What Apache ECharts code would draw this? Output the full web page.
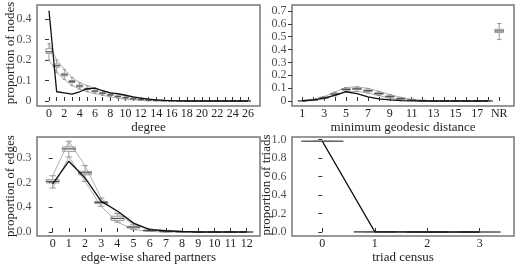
<!DOCTYPE html>
<html>
<head>
<meta charset="utf-8">
<script src="https://cdn.jsdelivr.net/npm/echarts@6/dist/echarts.min.js"></script>
<style>
  html, body { margin: 0; padding: 0; background: #fff; }
  #main { width: 519px; height: 266px; }
</style>
</head>
<body>
<div id="main"></div>
<script>
// degree panel
var degreePos = [0,1,2,3,4,5,6,7,8,9,10,11,12,13,14,15,16,17,18,19,20,21,22,23,24,25,26];
var degreeLabels = [0,2,4,6,8,10,12,14,16,18,20,22,24,26];
var degreeObs = [0.44,0.045,0.04,0.033,0.045,0.06,0.063,0.05,0.04,0.036,0.028,0.02,0.014,0.009,0.005,0.003,0.002,0.001,0,0,0,0,0,0,0,0,0];
// [low, q1, median, q3, high]
var degreeBoxes = [
  [0.2,0.232,0.24,0.255,0.28],[0.14,0.165,0.172,0.18,0.2],[0.105,0.122,0.128,0.135,0.155],
  [0.075,0.09,0.095,0.1,0.115],[0.058,0.068,0.073,0.078,0.09],[0.045,0.055,0.058,0.062,0.075],
  [0.036,0.044,0.048,0.052,0.063],[0.028,0.035,0.038,0.042,0.05],[0.02,0.027,0.03,0.033,0.04],
  [0.014,0.02,0.022,0.025,0.032],[0.009,0.014,0.016,0.018,0.025],[0.006,0.009,0.011,0.013,0.018],
  [0.003,0.006,0.007,0.009,0.013],[0.001,0.003,0.004,0.006,0.009],[0,0.002,0.003,0.004,0.006],
  [0,0.001,0.002,0.002,0.004],[0,0,0.001,0.001,0.003],[0,0,0,0,0],[0,0,0,0,0],[0,0,0,0,0],
  [0,0,0,0,0],[0,0,0,0,0],[0,0,0,0,0],[0,0,0,0,0],[0,0,0,0,0],[0,0,0,0,0],[0,0,0,0,0]
];
var degreeYTicks = [0,0.1,0.2,0.3,0.4];
var degreeYLabels = ['0','0.1','0.2','0.3','0.4'];

// geodesic distance panel (NR drawn at position 19)
var geoPos = [1,2,3,4,5,6,7,8,9,10,11,12,13,14,15,16,17,18];
var geoTicks = [1,2,3,4,5,6,7,8,9,10,11,12,13,14,15,16,17,18,19];
var geoLabels = [1,3,5,7,9,11,13,15,17,19];
var geoObs = [0.002,0.008,0.022,0.045,0.072,0.058,0.032,0.016,0.008,0.003,0.001,0,0,0,0,0,0,0];
var geoBoxes = [
  [0,0,0.001,0.002,0.004],[0.003,0.005,0.007,0.009,0.013],[0.018,0.021,0.025,0.029,0.035],
  [0.04,0.05,0.055,0.06,0.07],[0.07,0.084,0.09,0.096,0.105],[0.075,0.089,0.095,0.101,0.11],
  [0.062,0.074,0.08,0.086,0.098],[0.042,0.052,0.058,0.064,0.075],[0.022,0.03,0.035,0.04,0.05],
  [0.01,0.014,0.018,0.022,0.028],[0.004,0.006,0.008,0.01,0.014],[0.001,0.002,0.003,0.004,0.006],
  [0,0,0.001,0.002,0.003],[0,0,0,0,0],[0,0,0,0,0],[0,0,0,0,0],[0,0,0,0,0],[0,0,0,0,0]
];
var geoNR = [0.478,0.532,0.545,0.558,0.603];
var geoYTicks = [0,0.1,0.2,0.3,0.4,0.5,0.6,0.7];
var geoYLabels = ['0','0.1','0.2','0.3','0.4','0.5','0.6','0.7'];

// edge-wise shared partners panel
var espPos = [0,1,2,3,4,5,6,7,8,9,10,11,12];
var espObs = [0.195,0.287,0.219,0.124,0.085,0.036,0.01,0.005,0.002,0,0,0,0];
var espBoxes = [
  [0.178,0.199,0.205,0.212,0.228],[0.304,0.327,0.337,0.345,0.368],[0.205,0.232,0.24,0.246,0.269],
  [0.104,0.115,0.12,0.124,0.138],[0.04,0.047,0.055,0.064,0.075],[0.01,0.016,0.02,0.023,0.03],
  [0.002,0.004,0.006,0.008,0.012],[0,0.001,0.002,0.003,0.005],[0,0,0.001,0.001,0.002],
  [0,0,0,0,0],[0,0,0,0,0],[0,0,0,0,0],[0,0,0,0,0]
];
var espYTicks = [0,0.1,0.2,0.3];
var espYLabels = ['0.0','0.4','0.2','0.3'];

// triad census panel
var triadPos = [0,1,2,3];
var triadObs = [0.983,0.003,0,0];
var triadBoxes = [
  [0.983,0.983,0.983,0.983,0.983],[0.002,0.002,0.002,0.002,0.002],[0,0,0,0,0],[0,0,0,0,0]
];
var triadYTicks = [0,0.2,0.4,0.6,0.8,1.0];
var triadYLabels = ['0.0','0.2','0.4','0.6','0.8','1.0'];

var FONT = 'Liberation Serif';
var chart = echarts.init(document.getElementById('main'));

var rects = [
  { left: 37, top: 5, width: 223, height: 101 },
  { left: 292, top: 5, width: 222, height: 101 },
  { left: 37, top: 137, width: 223, height: 99 },
  { left: 292, top: 137, width: 222, height: 99 }
];
var yRanges = [[-0.0244, 0.468], [-0.0389, 0.7467], [-0.0162, 0.385], [-0.0433, 1.029]];
var xRanges = [[-1.57, 27.57], [0.06, 20.35], [-0.97, 12.82], [-0.578, 3.655]];

function pairs(pos, vals) {
  return pos.map(function (p, i) { return [p, vals[i]]; });
}
function boxData(pos, boxes) {
  return pos.map(function (p, i) { return [p].concat(boxes[i]); });
}

function renderBox(params, api) {
  var x = api.value(0);
  var lo = api.coord([x, api.value(1)]);
  var q1 = api.coord([x, api.value(2)]);
  var md = api.coord([x, api.value(3)]);
  var q3 = api.coord([x, api.value(4)]);
  var hi = api.coord([x, api.value(5)]);
  var half = api.size([0.8, 0])[0] / 2;
  var cap = api.size([0.4, 0])[0] / 2;
  var grey = { stroke: '#999', lineWidth: 1, fill: null };
  return {
    type: 'group',
    children: [
      { type: 'line', shape: { x1: lo[0], y1: lo[1], x2: q1[0], y2: q1[1] }, style: grey },
      { type: 'line', shape: { x1: q3[0], y1: q3[1], x2: hi[0], y2: hi[1] }, style: grey },
      { type: 'line', shape: { x1: lo[0] - cap, y1: lo[1], x2: lo[0] + cap, y2: lo[1] }, style: grey },
      { type: 'line', shape: { x1: hi[0] - cap, y1: hi[1], x2: hi[0] + cap, y2: hi[1] }, style: grey },
      { type: 'rect', shape: { x: q3[0] - half, y: q3[1], width: half * 2, height: q1[1] - q3[1] },
        style: { stroke: '#999', lineWidth: 1, fill: 'rgba(255,255,255,0)' } },
      { type: 'line', shape: { x1: md[0] - half, y1: md[1], x2: md[0] + half, y2: md[1] },
        style: { stroke: '#555', lineWidth: 1.2 } }
    ]
  };
}

function xAxis(idx, ticks, labels, name, fmt) {
  return {
    type: 'value', gridIndex: idx, min: xRanges[idx][0], max: xRanges[idx][1],
    name: name, nameLocation: 'middle', nameGap: 14,
    nameTextStyle: { fontFamily: FONT, fontSize: 13, color: '#222' },
    axisLine: { show: false },
    axisTick: { show: true, inside: true, length: 4, customValues: ticks.slice(), lineStyle: { color: '#333' } },
    axisLabel: { customValues: labels.slice(), margin: 2, fontFamily: FONT, fontSize: 12, color: '#222',
      formatter: fmt || function (v) { return String(Math.round(v)); } },
    splitLine: { show: false }
  };
}
// y axis draws the ticks; the tick texts come from a label-only series placed on the same scale
function yAxis(idx, ticks) {
  return {
    type: 'value', gridIndex: idx, min: yRanges[idx][0], max: yRanges[idx][1],
    axisLine: { show: false },
    axisTick: { show: true, inside: false, length: 4, customValues: ticks.slice(), lineStyle: { color: '#333' } },
    axisLabel: { show: false },
    splitLine: { show: false }
  };
}
function tickText(idx, ticks, labels) {
  return {
    type: 'scatter', xAxisIndex: idx, yAxisIndex: idx, clip: false, silent: true,
    symbol: 'circle', symbolSize: 1, itemStyle: { color: 'rgba(0,0,0,0)' },
    data: ticks.map(function (t) { return [xRanges[idx][0], t]; }),
    label: { show: true, position: 'left', distance: 5, fontFamily: FONT, fontSize: 12, color: '#222',
      formatter: function (p) { return labels[p.dataIndex]; } },
    z: 5
  };
}

function yName(text, x, y) {
  return {
    type: 'text', x: x, y: y, rotation: Math.PI / 2,
    style: { text: text, font: '13px "Liberation Serif"', fill: '#222',
      textAlign: 'center', textVerticalAlign: 'middle' }
  };
}

function panelSeries(idx, pos, obs, boxes, extraBox) {
  var lows = boxes.map(function (b) { return b[0]; });
  var highs = boxes.map(function (b) { return b[4]; });
  var bd = boxData(pos, boxes);
  if (extraBox) bd.push(extraBox);
  return [
    { type: 'line', xAxisIndex: idx, yAxisIndex: idx, data: pairs(pos, lows), showSymbol: false,
      lineStyle: { color: '#b0b0b0', width: 1 }, z: 2, silent: true },
    { type: 'line', xAxisIndex: idx, yAxisIndex: idx, data: pairs(pos, highs), showSymbol: false,
      lineStyle: { color: '#b0b0b0', width: 1 }, z: 2, silent: true },
    { type: 'custom', xAxisIndex: idx, yAxisIndex: idx, data: bd, renderItem: renderBox,
      encode: { x: 0, y: [1, 2, 3, 4, 5] }, z: 3, clip: false },
    { type: 'line', xAxisIndex: idx, yAxisIndex: idx, data: pairs(pos, obs), showSymbol: false,
      lineStyle: { color: '#111', width: 1.3 }, z: 4, silent: true }
  ];
}

var option = {
  animation: false,
  grid: rects.map(function (r) {
    return Object.assign({ show: true, borderColor: '#777', borderWidth: 1.5 }, r);
  }),
  graphic: [
    yName('proportion of nodes', 11, 53),
    yName('proportion of edges', 11, 186),
    yName('proportion of triads', 267, 185)
  ],
  xAxis: [
    xAxis(0, degreePos, degreeLabels, 'degree'),
    xAxis(1, geoTicks, geoLabels, 'minimum geodesic distance',
      function (v) { return Math.round(v) === 19 ? 'NR' : String(Math.round(v)); }),
    xAxis(2, espPos, espPos, 'edge-wise shared partners'),
    xAxis(3, triadPos, triadPos, 'triad census')
  ],
  yAxis: [
    yAxis(0, degreeYTicks),
    yAxis(1, geoYTicks),
    yAxis(2, espYTicks),
    yAxis(3, triadYTicks)
  ],
  series: []
    .concat(panelSeries(0, degreePos, degreeObs, degreeBoxes))
    .concat(panelSeries(1, geoPos, geoObs, geoBoxes, [19].concat(geoNR)))
    .concat(panelSeries(2, espPos, espObs, espBoxes))
    .concat(panelSeries(3, triadPos, triadObs, triadBoxes))
    .concat([
      tickText(0, degreeYTicks, degreeYLabels),
      tickText(1, geoYTicks, geoYLabels),
      tickText(2, espYTicks, espYLabels),
      tickText(3, triadYTicks, triadYLabels)
    ])
};

chart.setOption(option);
</script>
</body>
</html>
